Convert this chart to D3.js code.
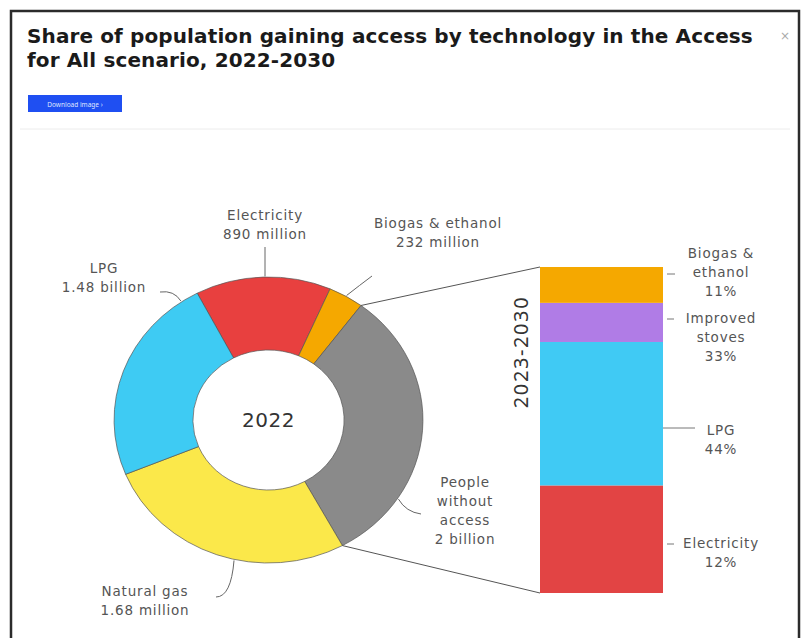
<!DOCTYPE html>
<html>
<head>
<meta charset="utf-8">
<script src="https://cdn.jsdelivr.net/npm/d3@7"></script>
<style>
  html, body { margin: 0; padding: 0; background: #fff; }
  svg { display: block; }
</style>
</head>
<body>
<script>
// ---- Data ----
const titleLines = ["Share of population gaining access by technology in the Access", "for All scenario, 2022-2030"];
const donutYear = "2022";
const donutCategories = ["Electricity", "Biogas & ethanol", "People without access", "Natural gas", "LPG"];
const donutValues = [890, 232, 2000, 1680, 1480]; // million people
const donutLabels = [
  ["Electricity", "890 million"],
  ["Biogas & ethanol", "232 million"],
  ["People", "without", "access", "2 billion"],
  ["Natural gas", "1.68 million"],
  ["LPG", "1.48 billion"]
];
const donutColors = ["#e8403f", "#f5a800", "#8a8a8a", "#fbe84a", "#3ecbf3"];

const barPeriod = "2023-2030";
const barCategories = ["Electricity", "LPG", "Improved stoves", "Biogas & ethanol"]; // bottom to top
const barValues = [33, 44, 12, 11]; // share, %
const barLabels = [
  ["Electricity", "12%"],
  ["LPG", "44%"],
  ["Improved", "stoves", "33%"],
  ["Biogas &", "ethanol", "11%"]
];
const barColors = ["#e24444", "#40caf4", "#b07ce6", "#f5a800"];

// ---- Layout ----
const W = 802, H = 638;
const svg = d3.select("body").append("svg").attr("width", W).attr("height", H);
const labelFont = "'DejaVu Sans', 'Noto Sans', sans-serif";
const labelSize = 13.5, labelSpacing = 0.8, labelColor = "#555";

// frame
svg.append("rect").attr("x", 11).attr("y", 11).attr("width", 788).attr("height", 640)
  .attr("fill", "none").attr("stroke", "#2b2b2b").attr("stroke-width", 2.5);
svg.append("line").attr("x1", 20).attr("x2", 790).attr("y1", 129).attr("y2", 129)
  .attr("stroke", "#ececec").attr("stroke-width", 1);

// title
const title = svg.append("text").attr("x", 27).attr("y", 43)
  .attr("font-family", "'DejaVu Sans', sans-serif").attr("font-weight", 700)
  .attr("font-size", 20).attr("letter-spacing", 0.12).attr("fill", "#1a1a1a");
titleLines.forEach((t, i) => title.append("tspan").attr("x", 27).attr("dy", i === 0 ? 0 : 23.6).text(t));

svg.append("text").attr("x", 785).attr("y", 40).attr("text-anchor", "middle")
  .attr("font-family", labelFont).attr("font-size", 12).attr("fill", "#aaa").text("×");

// button
svg.append("rect").attr("x", 28).attr("y", 95).attr("width", 94).attr("height", 17)
  .attr("fill", "#1f4ff2");
svg.append("text").attr("x", 75).attr("y", 106.5).attr("text-anchor", "middle")
  .attr("font-family", "'Noto Sans', sans-serif").attr("font-size", 6.5).attr("fill", "#dfe6ff")
  .text("Download image ›");

// ---- Donut ----
const cx = 268.5, cy = 420, sx = 1.08;
const rOuter = 143, rInner = 70;
const pie = d3.pie().sort(null).startAngle(-0.48).endAngle(-0.48 + 2 * Math.PI);
const arcs = pie(donutValues);
const arc = d3.arc().innerRadius(rInner).outerRadius(rOuter);

const gD = svg.append("g").attr("transform", `translate(${cx},${cy}) scale(${sx},1)`);
gD.selectAll("path").data(arcs).join("path")
  .attr("d", arc)
  .attr("fill", (d, i) => donutColors[i])
  .attr("stroke", "#555").attr("stroke-width", 0.7)
  .attr("vector-effect", "non-scaling-stroke");

svg.append("text").attr("x", cx).attr("y", cy + 7).attr("text-anchor", "middle")
  .attr("font-family", labelFont).attr("font-size", 20).attr("letter-spacing", 0.5)
  .attr("fill", "#333").text(donutYear);

// point on outer edge at angle a (radians from 12 o'clock)
const edge = (a, r = rOuter) => [cx + sx * r * Math.sin(a), cy - r * Math.cos(a)];

// donut labels: text position, anchor fraction along slice, leader end and control point
const donutLabelPos = [
  { x: 265, y: 220, frac: 0.45, lx: 265, ly: 247, straight: true },
  { x: 438, y: 228, frac: 0.5, lx: 372, ly: 276, cx: 360, cy: 285 },
  { x: 465, y: 487, frac: 0.755, lx: 421, ly: 514, cx: 406, cy: 512 },
  { x: 145, y: 596, frac: 0.43, lx: 216, ly: 597, cx: 231, cy: 597 },
  { x: 104, y: 273, frac: 0.92, lx: 160, ly: 292, cx: 174, cy: 290 }
];
const gL = svg.append("g");
arcs.forEach((d, i) => {
  const p = donutLabelPos[i];
  const a = d.startAngle + (d.endAngle - d.startAngle) * p.frac;
  const e = edge(a, rOuter + 1);
  const path = p.straight
    ? `M${p.lx},${p.ly}L${p.lx},${e[1]}`
    : `M${e[0]},${e[1]}Q${p.cx},${p.cy} ${p.lx},${p.ly}`;
  gL.append("path").attr("d", path).attr("fill", "none").attr("stroke", "#666").attr("stroke-width", 1);
  const t = gL.append("text").attr("text-anchor", "middle")
    .attr("font-family", labelFont).attr("font-size", labelSize).attr("letter-spacing", labelSpacing)
    .attr("fill", labelColor);
  donutLabels[i].forEach((s, j) => t.append("tspan").attr("x", p.x).attr("y", p.y + j * 19).text(s));
});

// ---- Stacked bar ----
const barX = 540, barW = 123;
const y = d3.scaleLinear().domain([0, d3.sum(barValues)]).range([593, 267]);
let acc = 0;
const stacked = barValues.map((v, i) => { const s = { i, y0: acc, y1: acc + v }; acc += v; return s; });

// connector lines from donut
const biogasArc = arcs[1], noAccessArc = arcs[2];
const pTop = edge(biogasArc.endAngle), pBot = edge(noAccessArc.endAngle);
svg.append("line").attr("x1", pTop[0]).attr("y1", pTop[1]).attr("x2", barX).attr("y2", y(d3.sum(barValues)))
  .attr("stroke", "#555").attr("stroke-width", 1);
svg.append("line").attr("x1", pBot[0]).attr("y1", pBot[1]).attr("x2", barX).attr("y2", y(0))
  .attr("stroke", "#555").attr("stroke-width", 1);

svg.append("g").selectAll("rect").data(stacked).join("rect")
  .attr("x", barX).attr("width", barW)
  .attr("y", d => y(d.y1)).attr("height", d => y(d.y0) - y(d.y1))
  .attr("fill", d => barColors[d.i]);

svg.append("text")
  .attr("transform", `translate(528, 352) rotate(-90)`)
  .attr("text-anchor", "middle").attr("font-family", "'Noto Sans', sans-serif").attr("font-size", 20)
  .attr("letter-spacing", 1.6).attr("fill", "#333").text(barPeriod);

// bar labels
const barLabelPos = [
  { y: 548, ly: 544, x1: 667, x2: 674 },
  { y: 435, ly: 428, x1: 663, x2: 695 },
  { y: 323, ly: 319, x1: 667, x2: 674 },
  { y: 258, ly: 274, x1: 667, x2: 675 }
];
const gB = svg.append("g");
stacked.forEach((d, k) => {
  const p = barLabelPos[k];
  gB.append("line").attr("x1", p.x1).attr("x2", p.x2)
    .attr("y1", p.ly).attr("y2", p.ly).attr("stroke", "#777").attr("stroke-width", 1);
  const t = gB.append("text").attr("text-anchor", "middle")
    .attr("font-family", labelFont).attr("font-size", labelSize).attr("letter-spacing", labelSpacing)
    .attr("fill", labelColor);
  barLabels[k].forEach((s, j) => t.append("tspan").attr("x", 721).attr("y", p.y + j * 19).text(s));
});
</script>
</body>
</html>
